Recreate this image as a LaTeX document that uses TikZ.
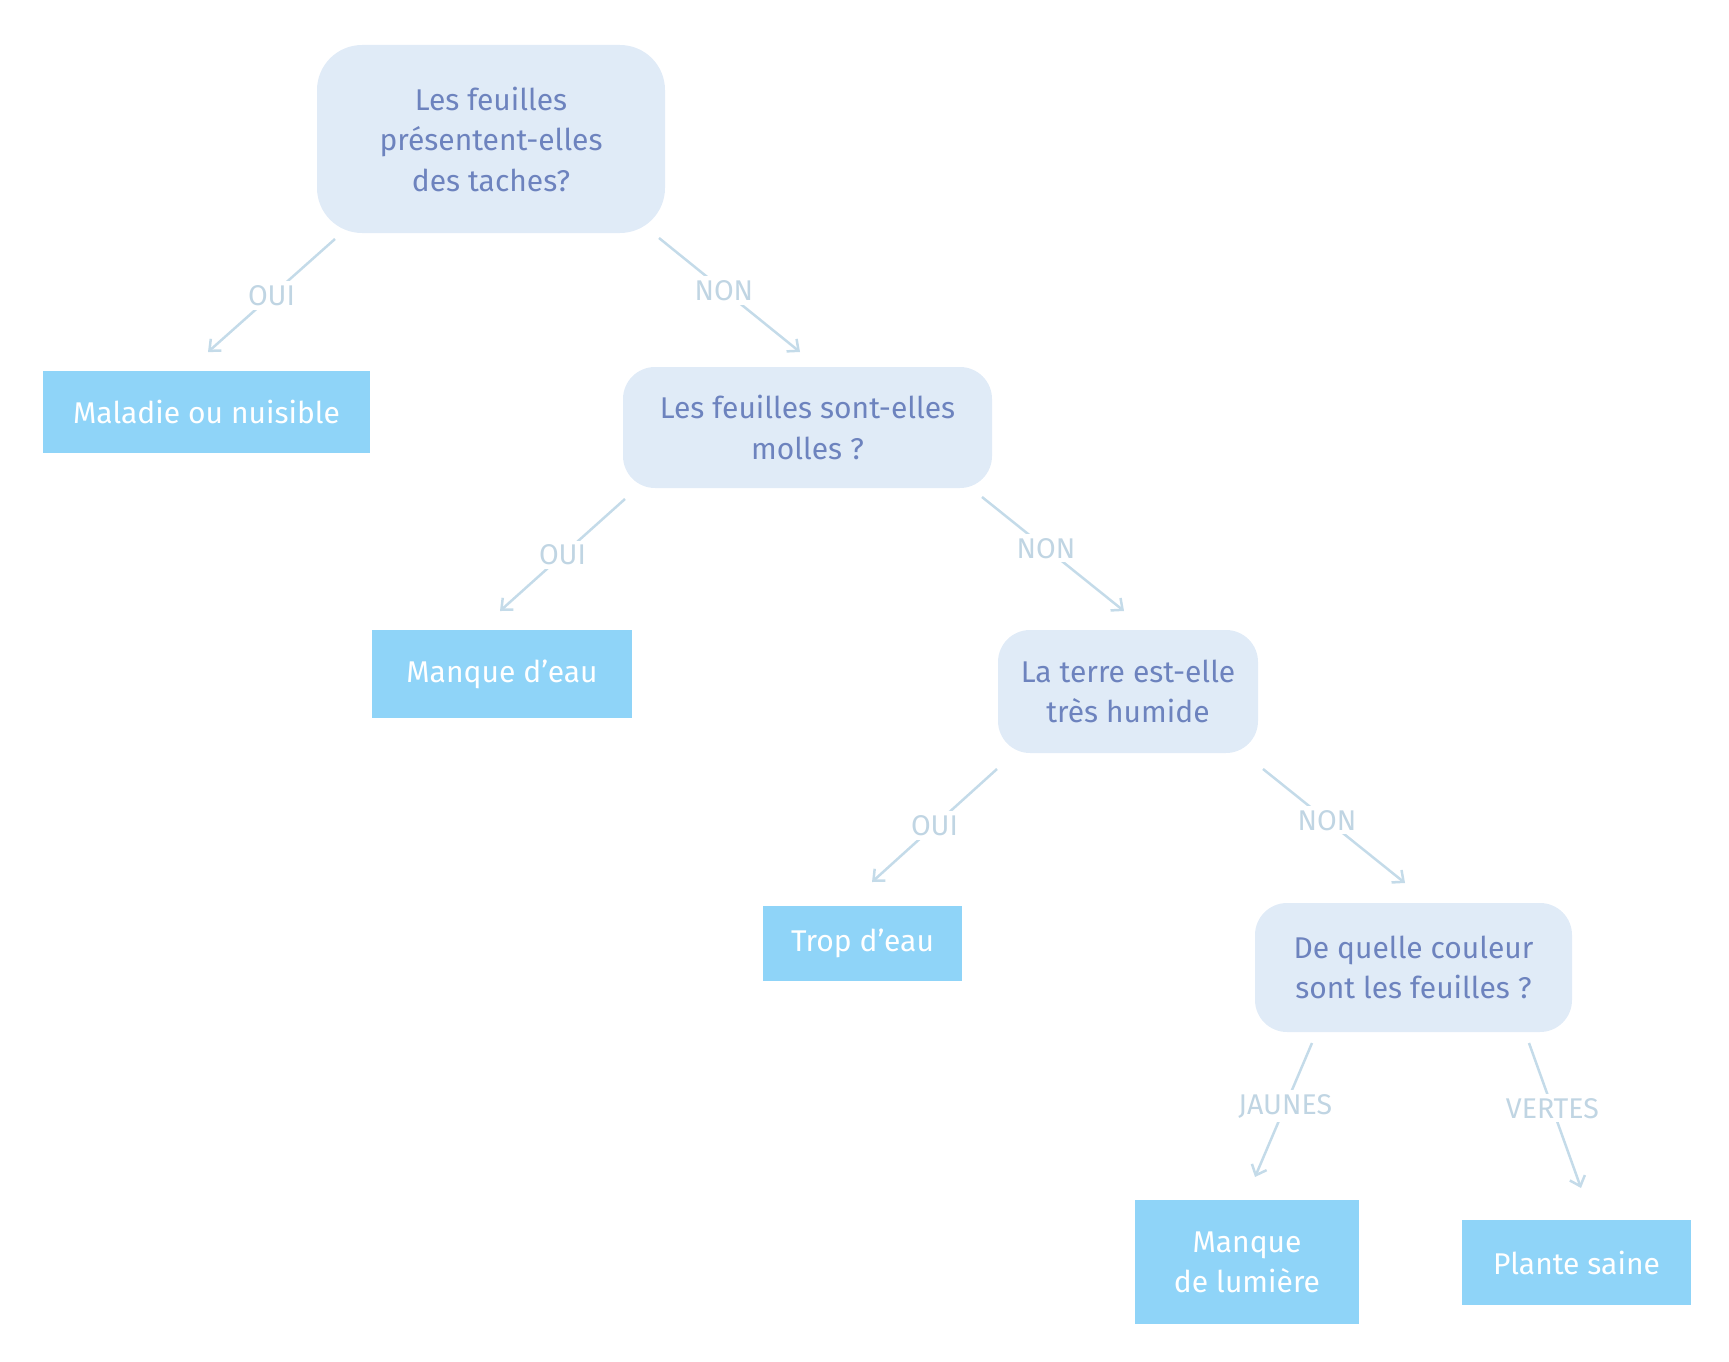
\documentclass[tikz,border=0pt]{standalone}
\usepackage{fontspec}
\setmainfont{Fira Sans}
\usetikzlibrary{arrows.meta}
\definecolor{qfill}{HTML}{E0EBF7}
\definecolor{qtext}{HTML}{6D83BE}
\definecolor{leaffill}{HTML}{8FD4F8}
\definecolor{edgecol}{HTML}{C4DBE9}
\definecolor{labcol}{HTML}{C0D5E3}
\tikzset{
  question/.style={rectangle, rounded corners=#1, fill=qfill, text=qtext, align=center,
    font=\fontsize{30}{40.5}\selectfont, inner sep=0pt},
  question/.default=32pt,
  leaf/.style={rectangle, fill=leaffill, text=white, align=center,
    font=\fontsize{30}{40}\selectfont, inner sep=0pt},
  conn/.style={draw=edgecol, line width=2.5pt, -{Straight Barb[length=9pt,width=16pt,line width=2.5pt]}},
  lab/.style={fill=white, text=labcol, font=\fontsize{28.5}{32}\selectfont, inner sep=4pt}
}
\begin{document}
\begin{tikzpicture}[x=1pt,y=-1pt]
\useasboundingbox (0,0) rectangle (1729,1362);
% question nodes
\node[question=45pt, minimum width=348pt, minimum height=188pt] (q1) at (491,139)
  {Les feuilles\\présentent-elles\\des taches?};
\node[question, minimum width=369pt, minimum height=121pt] (q2) at (807.5,427.5)
  {Les feuilles sont-elles\\molles ?};
\node[question, minimum width=260pt, minimum height=123pt] (q3) at (1128,691.5)
  {La terre est-elle\\très humide};
\node[question, minimum width=317pt, minimum height=129pt] (q4) at (1413.5,967.5)
  {De quelle couleur\\sont les feuilles ?};
% leaves
\node[leaf, minimum width=327pt, minimum height=82pt] (l1) at (206.5,412) {Maladie ou nuisible};
\node[leaf, minimum width=260pt, minimum height=88pt] (l2) at (502,674) {Manque d’eau};
\node[leaf, minimum width=199pt, minimum height=75pt] (l3) at (862.5,943.5) {Trop d’eau};
\node[leaf, minimum width=224pt, minimum height=124pt] (l4) at (1247,1262) {Manque\\de lumière};
\node[leaf, minimum width=229pt, minimum height=85pt] (l5) at (1576.5,1262.5) {Plante saine};
% connector end points
\coordinate (s1) at (335,239);   \coordinate (e1) at (208,352);
\coordinate (s2) at (659,238);   \coordinate (e2) at (800,352);
\coordinate (s3) at (625,499);   \coordinate (e3) at (500,611);
\coordinate (s4) at (982,497);   \coordinate (e4) at (1124,611);
\coordinate (s5) at (997,769);   \coordinate (e5) at (872,882);
\coordinate (s6) at (1263,769);  \coordinate (e6) at (1405,883);
\coordinate (s7) at (1312,1043); \coordinate (e7) at (1255,1177);
\coordinate (s8) at (1529,1043); \coordinate (e8) at (1581,1188);
% connectors
\draw[conn] (s1) -- node[lab] {OUI} (e1);
\draw[conn] (s2) -- node[lab, pos=0.46] {NON} (e2);
\draw[conn] (s3) -- node[lab] {OUI} (e3);
\draw[conn] (s4) -- node[lab, pos=0.45] {NON} (e4);
\draw[conn] (s5) -- node[lab] {OUI} (e5);
\draw[conn] (s6) -- node[lab, pos=0.45] {NON} (e6);
\draw[conn] (s7) -- node[lab, pos=0.47] {JAUNES} (e7);
\draw[conn] (s8) -- node[lab, pos=0.45] {VERTES} (e8);
\end{tikzpicture}
\end{document}
